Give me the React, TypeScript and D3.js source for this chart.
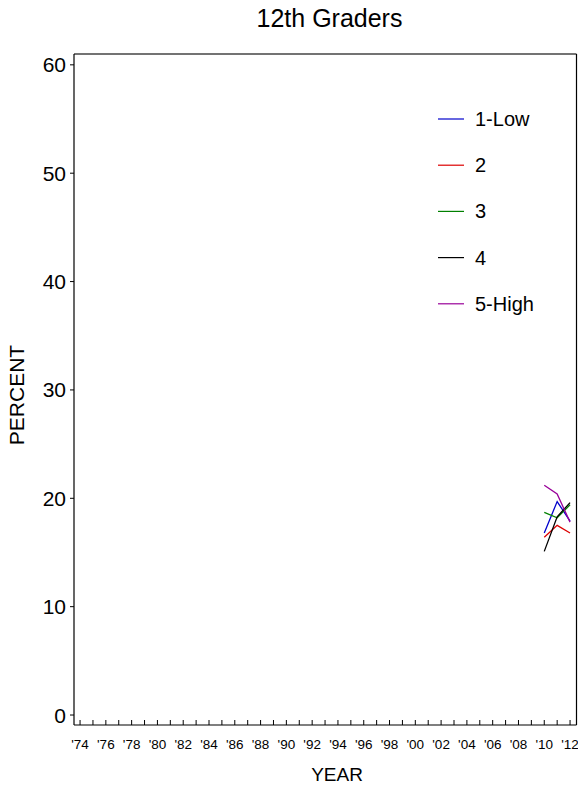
import React from "react";
import * as d3 from "d3";

const years = [2010, 2011, 2012];
const seriesNames = ["1-Low", "2", "3", "4", "5-High"];
const seriesColors = ["#0000cc", "#dd0000", "#008000", "#000000", "#990099"];
const lowValues = [16.8, 19.7, 17.9];
const twoValues = [16.4, 17.5, 16.8];
const threeValues = [18.7, 18.2, 19.4];
const fourValues = [15.1, 18.3, 19.6];
const highValues = [21.2, 20.4, 17.8];
const seriesValues = [lowValues, twoValues, threeValues, fourValues, highValues];
const yTicks = [0, 10, 20, 30, 40, 50, 60];
const xTickYears = d3.range(1974, 2013, 1);
const xLabelYears = d3.range(1974, 2013, 2);

const W = 578;
const H = 801;
const left = 74;
const right = 576.5;
const top = 54;
const bottom = 725;
const font = "'Liberation Sans', Arial, sans-serif";

export default function App() {
  const x = d3.scaleLinear().domain([1973.53, 2012.5]).range([left, right]);
  const y = d3.scaleLinear().domain([-0.92, 61]).range([bottom, top]);
  const line = d3
    .line<number>()
    .x((_, i) => x(years[i]))
    .y((d) => y(d));

  return (
    <svg
      width={W}
      height={H}
      style={{ position: "absolute", left: 0, top: 0, background: "#fff" }}
      fontFamily={font}
    >
      <text x={329.5} y={27} textAnchor="middle" fontSize={25} fill="#000">
        12th Graders
      </text>
      {/* frame */}
      <line x1={left} x2={right} y1={top} y2={top} stroke="#444" strokeWidth={1.5} />
      <line x1={right} x2={right} y1={top} y2={bottom} stroke="#000" strokeWidth={1.2} />
      <line x1={left} x2={left} y1={top} y2={bottom} stroke="#000" strokeWidth={1.2} />
      <line x1={left} x2={right} y1={bottom} y2={bottom} stroke="#000" strokeWidth={1.2} />
      {/* y ticks */}
      {yTicks.map((t) => (
        <g key={t}>
          <line x1={left - 4} x2={left} y1={y(t)} y2={y(t)} stroke="#000" />
          <text
            x={66}
            y={y(t)}
            dy="0.36em"
            textAnchor="end"
            fontSize={21}
            fill="#000"
          >
            {t}
          </text>
        </g>
      ))}
      {/* x ticks */}
      {xTickYears.map((yr) => (
        <line key={yr} x1={x(yr)} x2={x(yr)} y1={bottom} y2={bottom - 5} stroke="#000" />
      ))}
      {xLabelYears.map((yr) => (
        <text key={yr} x={x(yr)} y={749} textAnchor="middle" fontSize={13.5} fill="#000">
          {"'" + String(yr).slice(2)}
        </text>
      ))}
      <text x={337} y={781} textAnchor="middle" fontSize={19} fill="#000">
        YEAR
      </text>
      <text
        transform={`translate(24,395) rotate(-90)`}
        textAnchor="middle"
        fontSize={21}
        fill="#000"
      >
        PERCENT
      </text>
      {/* series */}
      {seriesValues.map((vals, i) => (
        <path key={i} d={line(vals) || ""} fill="none" stroke={seriesColors[i]} strokeWidth={1.3} />
      ))}
      {/* legend */}
      {seriesNames.map((n, i) => {
        const ly = 119 + i * 46.2;
        return (
          <g key={n}>
            <line x1={438} x2={464} y1={ly} y2={ly} stroke={seriesColors[i]} strokeWidth={1.2} />
            <text x={475} y={ly} dy="0.35em" fontSize={20} fill="#000">
              {n}
            </text>
          </g>
        );
      })}
    </svg>
  );
}
